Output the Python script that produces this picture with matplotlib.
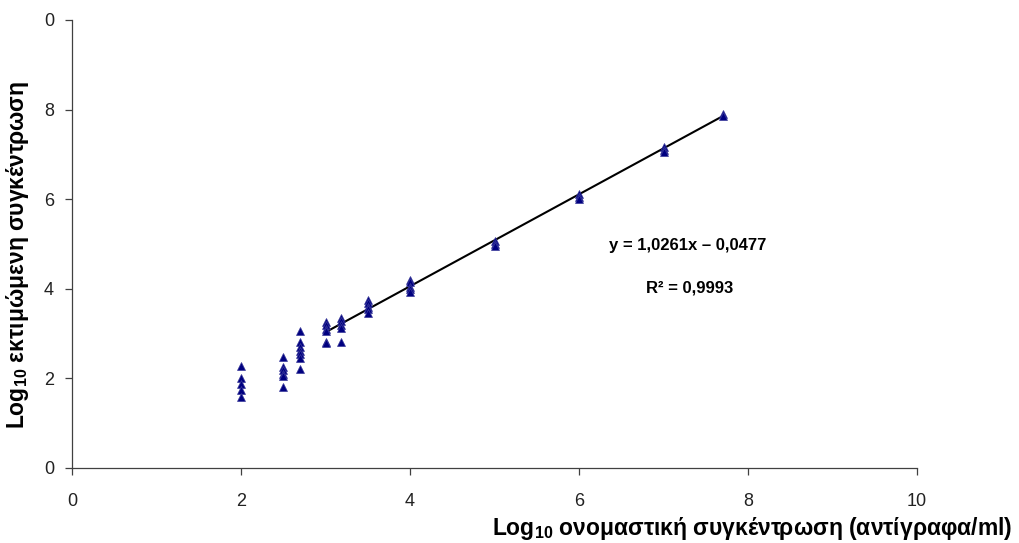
import matplotlib.pyplot as plt
import numpy as np

plt.rcParams['font.family'] = ['Liberation Sans', 'DejaVu Sans']
plt.rcParams['mathtext.fontset'] = 'custom'
plt.rcParams['mathtext.rm'] = 'Liberation Sans:bold'
plt.rcParams['mathtext.default'] = 'rm'

# nominal log10 concentration -> estimated log10 values
x_nominal = [2.0, 2.5, 2.7, 3.0, 3.18, 3.5, 4.0, 5.0, 6.0, 7.0, 7.7]
y_estimated = [
    [2.27, 2.0, 1.87, 1.75, 1.58],
    [2.48, 2.25, 2.18, 2.1, 2.05, 1.8],
    [3.05, 2.82, 2.7, 2.62, 2.55, 2.45, 2.22],
    [3.25, 3.2, 3.1, 3.05, 2.82, 2.8],
    [3.35, 3.28, 3.2, 3.12, 2.82],
    [3.75, 3.68, 3.6, 3.55, 3.45],
    [4.2, 4.15, 4.05, 4.0, 3.92],
    [5.07, 5.0, 4.95],
    [6.12, 6.05, 6.0],
    [7.16, 7.1, 7.06],
    [7.9, 7.85],
]

# trend line
slope = 1.0261
intercept = -0.0477
fit_range = [3.0, 7.7]
eq_text = 'y = 1,0261x – 0,0477'
r2_text = 'R² = 0,9993'

xlabel = 'Log$_{10}$ ονομαστική συγκέντρωση (αντίγραφα/ml)'
ylabel = 'Log$_{10}$ εκτιμώμενη συγκέντρωση'
xticks = [0, 2, 4, 6, 8, 10]
yticks = [0, 2, 4, 6, 8, 10]
ytick_labels = ['0', '2', '4', '6', '8', '0']

fig = plt.figure(figsize=(10.19, 5.43), dpi=100)
ax = fig.add_axes([72/1019, 75/543, 845/1019, 448/543])

xs, ys = [], []
for xv, yv in zip(x_nominal, y_estimated):
    xs += [xv]*len(yv)
    ys += yv
ax.plot(xs, ys, '^', color='#000080', markersize=5.5, markeredgewidth=0.5,
        markeredgecolor='#3a3a9a', linestyle='none', zorder=3)

xf = np.array(fit_range)
ax.plot(xf, slope*xf + intercept, color='black', linewidth=1.5, zorder=2)

fig.text(688/1019, 1-245/543, eq_text, fontsize=12, fontweight='bold',
         ha='center', va='center')
fig.text(690/1019, 1-288/543, r2_text, fontsize=12, fontweight='bold',
         ha='center', va='center')

ax.set_xlim(0, 10)
ax.set_ylim(0, 10)
ax.set_xticks(xticks)
ax.set_yticks(yticks)
ax.set_yticklabels(ytick_labels)
for s in ['top', 'right']:
    ax.spines[s].set_visible(False)
for s in ['left', 'bottom']:
    ax.spines[s].set_color('#404040')
    ax.spines[s].set_linewidth(0.9)
ax.tick_params(direction='out', length=5, width=0.9, color='#404040',
               labelsize=13, labelcolor='#222222')
ax.tick_params(axis='x', pad=13)
ax.tick_params(axis='y', pad=8)

fig.text(1012/1019, 1-528/543, xlabel, ha='right', va='center', fontsize=16.5,
         fontweight='bold')
fig.text(18/1019, 1-255/543, ylabel, ha='center', va='center', fontsize=16.5,
         fontweight='bold', rotation=90)

fig.savefig('out.png', dpi=100)
